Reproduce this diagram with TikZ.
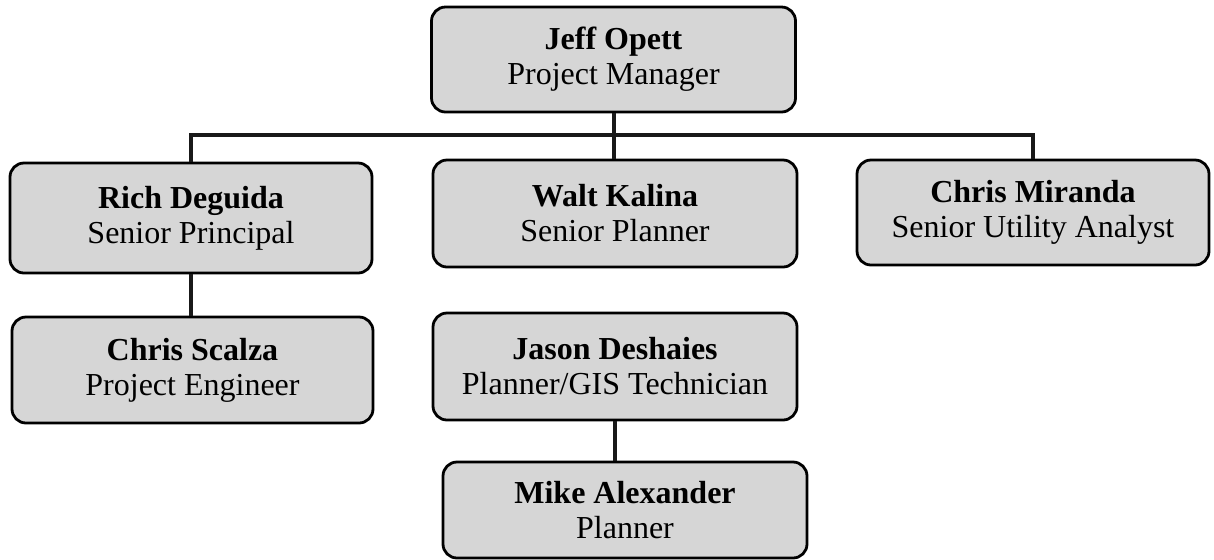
\documentclass[tikz,border=0pt]{standalone}
\usepackage{fontspec}
\setmainfont{Liberation Serif}
\usepackage{tikz}
\usetikzlibrary{positioning}

\begin{document}
\begin{tikzpicture}[x=0.5pt,y=-0.5pt]

            % BOUNDING BOX
            \useasboundingbox (0,0) rectangle (1214,559);

            % BOXCOLOR
            \definecolor{boxcolor_chart}{rgb}{ 0.84 0.84 0.84 }
            \definecolor{linkcolor_chart}{rgb}{ 0.1 0.1 0.1 }

            % DEF STYLES
            \tikzstyle{personbox_chart} = [draw=black, line width=1.4pt, fill=boxcolor_chart, rounded corners=7pt, align=center, inner sep=0pt, font=\fontsize{16}{17.5}\selectfont]
            \tikzstyle{linkstyle_chart} = [line width=2pt, color=linkcolor_chart]

            % NODES
            \node[personbox_chart, minimum width=182pt, minimum height=52.5pt] (jeff) at (613.5,59.5) {\textbf{Jeff Opett}\\Project Manager};
            \node[personbox_chart, minimum width=181pt, minimum height=55pt] (rich) at (191,218) {\textbf{Rich Deguida}\\Senior Principal};
            \node[personbox_chart, minimum width=182pt, minimum height=53.5pt] (walt) at (615,213.5) {\textbf{Walt Kalina}\\Senior Planner};
            \node[personbox_chart, minimum width=176pt, minimum height=52.5pt] (miranda) at (1033,212.5) {\textbf{Chris Miranda}\\Senior Utility Analyst};
            \node[personbox_chart, minimum width=180.5pt, minimum height=53pt] (scalza) at (192.5,370) {\textbf{Chris Scalza}\\Project Engineer};
            \node[personbox_chart, minimum width=182pt, minimum height=53.5pt] (jason) at (615,366.5) {\textbf{Jason Deshaies}\\Planner/GIS Technician};
            \node[personbox_chart, minimum width=182pt, minimum height=48pt] (mike) at (625,510) {\textbf{Mike Alexander}\\Planner};

            % BUS
            \coordinate (bus) at (614,135);

            % EDGES
            \draw[linkstyle_chart] (jeff.south) -- (jeff.south |- walt.north);
            \draw[linkstyle_chart] (rich.north) -- (rich.north |- bus) -| (miranda.north);
            \foreach \i/\k in {rich/scalza,jason/mike} {
              \draw[linkstyle_chart] (\i.south) -- (\i.south |- \k.north);
            }

\end{tikzpicture}
\end{document}
